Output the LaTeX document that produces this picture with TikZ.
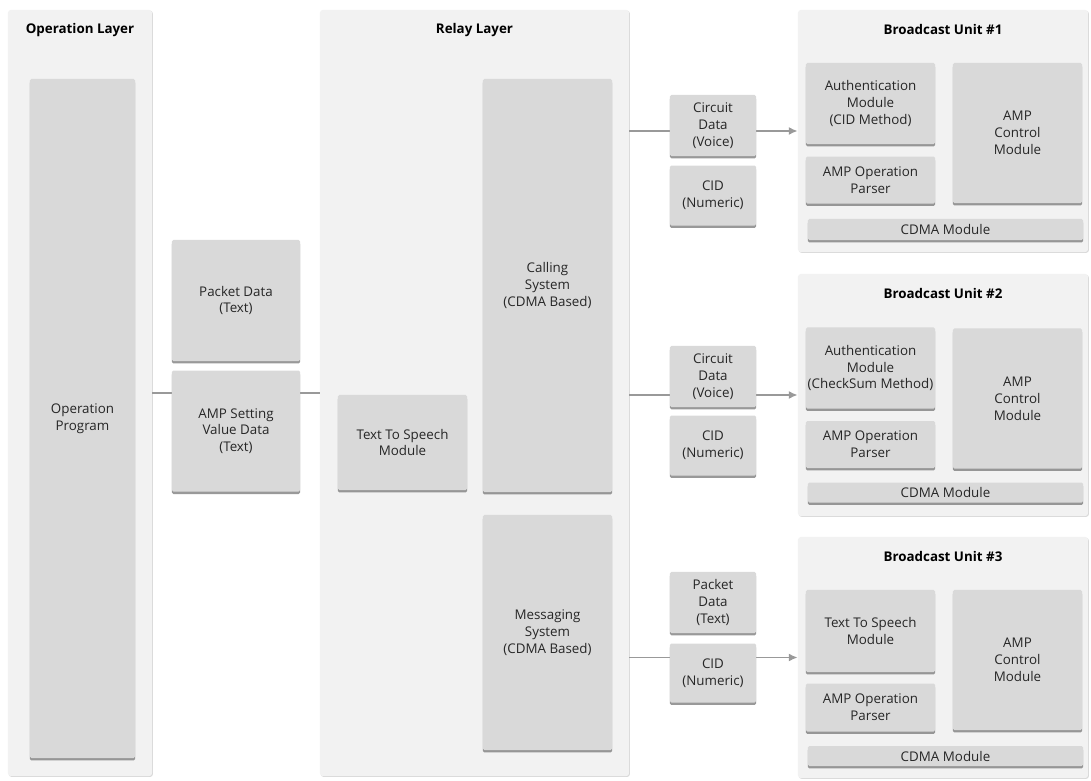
\documentclass[tikz,border=0pt]{standalone}
\usepackage{fontspec}
\setmainfont{Open Sans}
\usetikzlibrary{arrows.meta,positioning,shadows}

\begin{document}
\begin{tikzpicture}[
    x=0.025cm, y=-0.025cm,
    font=\fontsize{9.5}{12}\selectfont,
    layer/.style={fill=gray!10, rounded corners=2pt, inner sep=0pt, drop shadow={shadow xshift=0.6pt, shadow yshift=-0.6pt, fill=black!30, opacity=0.5}},
    title/.style={font=\fontsize{9.5}{12}\selectfont\bfseries, text=black},
    box/.style={fill=gray!30, rounded corners=1pt, align=center, inner sep=1pt, text=black!85, drop shadow={shadow xshift=0pt, shadow yshift=-1.7pt, fill=black!50, opacity=0.8}},
    link/.style={draw=gray!80, line width=1.4pt},
    arrow/.style={link, -{Latex[length=2.2mm, width=2mm]}}
]
\useasboundingbox (0,0) rectangle (1091,781);

% layers and units
\node[layer, minimum width=3.6cm, minimum height=19.15cm] (oplayer) at (80,393) {};
\node[layer, minimum width=7.725cm, minimum height=19.15cm] (relay) at (474.5,393) {};
\node[layer, minimum width=7.25cm, minimum height=6.05cm] (unitA) at (943,131) {};
\node[layer, minimum width=7.25cm, minimum height=6.05cm] (unitB) at (943,395) {};
\node[layer, minimum width=7.25cm, minimum height=6.025cm] (unitC) at (943,657.5) {};

\node[title, yshift=-0.5cm] at (oplayer.north) {Operation Layer};
\node[title, yshift=-0.5cm] at (relay.north) {Relay Layer};
\node[title, yshift=-0.5cm] at (unitA.north) {Broadcast Unit \#1};
\node[title, yshift=-0.5cm] at (unitB.north) {Broadcast Unit \#2};
\node[title, yshift=-0.5cm] at (unitC.north) {Broadcast Unit \#3};

% connectors (behind the boxes)
\draw[link] (oplayer.east) -- (relay.west);
\draw[arrow] (unitA.west -| relay.east) -- (unitA.west);
\draw[arrow] (unitB.west -| relay.east) -- (unitB.west);
\draw[arrow] (unitC.west -| relay.east) -- (unitC.west);

% operation layer
\node[box, minimum width=2.625cm, minimum height=16.975cm] (program) at (82.5,418.5) {Operation\\Program};
\node[box, minimum width=3.2cm, minimum height=3.025cm] (packet) at (236,300.5) {Packet Data\\(Text)};
\node[box, minimum width=3.2cm, minimum height=3.025cm, below=0.225cm of packet] (ampset) {AMP Setting\\Value Data\\(Text)};

% relay layer
\node[box, minimum width=3.225cm, minimum height=2.375cm] (ttsrelay) at (402.5,442.5) {Text To Speech\\Module};
\node[box, minimum width=3.225cm, minimum height=10.325cm] (calling) at (547.5,285.5) {Calling\\System\\(CDMA Based)};
\node[box, minimum width=3.225cm, minimum height=5.875cm] (messaging) at (547.5,632.5) {Messaging\\System\\(CDMA Based)};

% data between relay and units
\node[box, minimum width=2.15cm, minimum height=1.525cm] (circuitA) at (713,125.5) {Circuit\\Data\\(Voice)};
\node[box, minimum width=2.15cm, minimum height=1.5cm, below=0.225cm of circuitA] (cidA) {CID\\(Numeric)};
\node[box, minimum width=2.15cm, minimum height=1.525cm] (circuitB) at (713,376.5) {Circuit\\Data\\(Voice)};
\node[box, minimum width=2.15cm, minimum height=1.5cm, below=0.2cm of circuitB] (cidB) {CID\\(Numeric)};
\node[box, minimum width=2.15cm, minimum height=1.525cm] (packetC) at (713,602.5) {Packet\\Data\\(Text)};
\node[box, minimum width=2.15cm, minimum height=1.475cm, below=0.25cm of packetC] (cidC) {CID\\(Numeric)};

% broadcast unit 1
\node[box, minimum width=3.225cm, minimum height=2.025cm] (authA) at (870.5,103.5) {Authentication\\Module\\(CID Method)};
\node[box, minimum width=3.225cm, minimum height=1.175cm, below=0.3cm of authA] (parserA) {AMP Operation\\Parser};
\node[box, minimum width=3.225cm, minimum height=3.5cm] (controlA) at (1017.5,133) {AMP\\Control\\Module};
\node[box, minimum width=6.875cm, minimum height=0.525cm] (cdmaA) at (945.5,229.5) {CDMA Module};

% broadcast unit 2
\node[box, minimum width=3.225cm, minimum height=2.025cm] (authB) at (870.5,368) {Authentication\\Module\\(CheckSum Method)};
\node[box, minimum width=3.225cm, minimum height=1.175cm, below=0.3cm of authB] (parserB) {AMP Operation\\Parser};
\node[box, minimum width=3.225cm, minimum height=3.5cm] (controlB) at (1017.5,398.5) {AMP\\Control\\Module};
\node[box, minimum width=6.875cm, minimum height=0.5cm] (cdmaB) at (945.5,492.5) {CDMA Module};

% broadcast unit 3
\node[box, minimum width=3.225cm, minimum height=2.05cm] (ttsC) at (870.5,631) {Text To Speech\\Module};
\node[box, minimum width=3.225cm, minimum height=1.2cm, below=0.275cm of ttsC] (parserC) {AMP Operation\\Parser};
\node[box, minimum width=3.225cm, minimum height=3.5cm] (controlC) at (1017.5,660) {AMP\\Control\\Module};
\node[box, minimum width=6.875cm, minimum height=0.5cm] (cdmaC) at (945.5,756) {CDMA Module};
\end{tikzpicture}
\end{document}
